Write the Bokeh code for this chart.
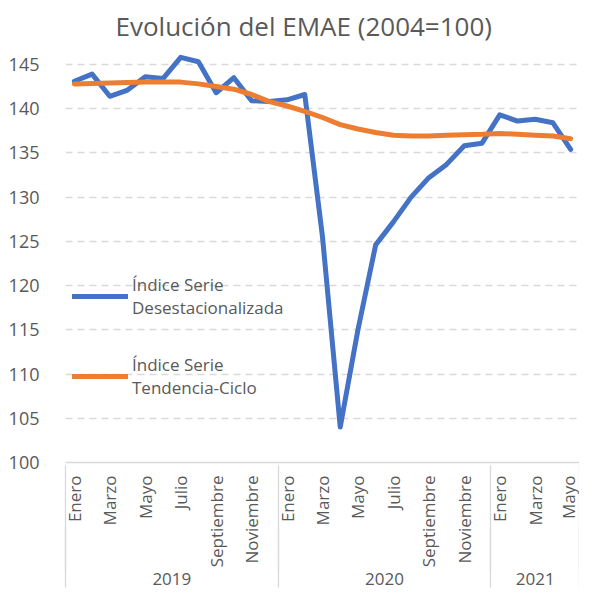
import math
from bokeh.plotting import figure
from bokeh.models import FixedTicker, LinearAxis, Legend, LegendItem, Range1d, ColumnDataSource
from bokeh.embed import file_html
from bokeh.resources import INLINE

# ---------------- data ----------------
MESES = ["Enero", "Febrero", "Marzo", "Abril", "Mayo", "Junio", "Julio",
         "Agosto", "Septiembre", "Octubre", "Noviembre", "Diciembre"]
ANIOS = ["2019", "2020", "2021"]
MESES_POR_ANIO = [12, 12, 5]

desestacionalizada = [143.1, 143.9, 141.4, 142.1, 143.6, 143.4, 145.8, 145.3, 141.8, 143.5, 140.9, 140.8,
                      141.0, 141.6, 125.5, 104.0, 115.0, 124.6, 127.2, 130.0, 132.2, 133.7, 135.8, 136.1,
                      139.3, 138.6, 138.8, 138.4, 135.4]
tendencia_ciclo = [142.8, 142.85, 142.9, 142.95, 143.0, 143.0, 143.0, 142.8, 142.5, 142.2, 141.6, 140.8,
                   140.3, 139.7, 139.0, 138.2, 137.7, 137.3, 137.0, 136.9, 136.9, 137.0, 137.05, 137.1,
                   137.2, 137.1, 137.0, 136.9, 136.6]
Y_TICKS = [100, 105, 110, 115, 120, 125, 130, 135, 140, 145]

TITULO = "Evolución del EMAE (2004=100)"
SERIE1 = "Índice Serie\nDesestacionalizada"
SERIE2 = "Índice Serie\nTendencia-Ciclo"

# ---------------- derived ----------------
periodos = []
for anio, n in zip(ANIOS, MESES_POR_ANIO):
    for m in MESES[:n]:
        periodos.append((anio, m))
x = list(range(len(periodos)))

src = ColumnDataSource(dict(x=x, des=desestacionalizada, ten=tendencia_ciclo))

FONT = "Open Sans"
GRAY = "#595959"
LIGHT = "#d9d9d9"
MONTH_STANDOFF = 13
MONTH_PANEL = MONTH_STANDOFF + 92

p = figure(width=579, height=598, output_backend="svg", toolbar_location=None,
           x_range=Range1d(-0.5, len(x) - 0.5), y_range=Range1d(100, 146.8),
           min_border_left=65, min_border_right=0, min_border_top=40, min_border_bottom=136)
p.outline_line_color = None
p.background_fill_color = "white"
p.border_fill_color = "white"

p.title.text = TITULO
p.title.text_font = FONT
p.title.text_font_size = "26px"
p.title.text_font_style = "normal"
p.title.text_color = GRAY
p.title.align = "left"
p.title.offset = 50

# y axis
p.yaxis.ticker = FixedTicker(ticks=Y_TICKS)
p.yaxis.axis_line_color = None
p.yaxis.major_tick_line_color = None
p.yaxis.minor_tick_line_color = None
p.yaxis.major_label_standoff = 20
p.yaxis.major_label_text_font = FONT
p.yaxis.major_label_text_font_size = "18px"
p.yaxis.major_label_text_color = GRAY

p.xgrid.grid_line_color = None
p.ygrid.ticker = FixedTicker(ticks=Y_TICKS[1:])
p.ygrid.grid_line_color = LIGHT
p.ygrid.grid_line_width = 1.3
p.ygrid.grid_line_dash = "7 5"

# boundaries between years
bounds = [-0.5]
acc = -0.5
for n in MESES_POR_ANIO:
    acc += n
    bounds.append(acc)

# month axis
month_ticks = [i for i in x if i % 2 == 0]
xa = p.xaxis[0]
xa.ticker = FixedTicker(ticks=month_ticks)
xa.major_label_overrides = {i: periodos[i][1] for i in month_ticks}
xa.major_label_orientation = math.pi / 2
xa.major_label_text_font = FONT
xa.major_label_text_font_size = "17px"
xa.major_label_text_color = GRAY
xa.major_label_standoff = MONTH_STANDOFF
xa.major_tick_line_color = None
xa.major_tick_out = 0
xa.major_tick_in = 0
xa.minor_tick_line_color = None
xa.axis_line_color = LIGHT
xa.axis_line_width = 1.3

# year axis (its minor ticks draw the separators up to the plot area)
centers = [(bounds[i] + bounds[i + 1]) / 2 for i in range(len(ANIOS))]
ya = LinearAxis(ticker=FixedTicker(ticks=centers, minor_ticks=bounds),
                major_label_overrides={c: a for c, a in zip(centers, ANIOS)})
ya.axis_line_color = None
ya.major_tick_line_color = None
ya.major_tick_out = 0
ya.major_tick_in = 0
ya.minor_tick_line_color = LIGHT
ya.minor_tick_line_width = 1.3
ya.minor_tick_out = 0
ya.minor_tick_in = MONTH_PANEL
ya.major_label_standoff = 2
ya.major_label_text_font = FONT
ya.major_label_text_font_size = "17px"
ya.major_label_text_color = GRAY
p.add_layout(ya, "below")

# bottom axis: only separators through the year row
ba = LinearAxis(ticker=FixedTicker(ticks=[], minor_ticks=bounds))
ba.axis_line_color = None
ba.major_tick_line_color = None
ba.major_tick_out = 0
ba.major_tick_in = 0
ba.major_label_standoff = 0
ba.major_label_text_font_size = "0px"
ba.minor_tick_line_color = LIGHT
ba.minor_tick_line_width = 1.3
ba.minor_tick_out = 0
ba.minor_tick_in = 60
p.add_layout(ba, "below")

# lines
r1 = p.line("x", "des", source=src, line_color="#4472C4", line_width=5,
            line_join="round", line_cap="round")
r2 = p.line("x", "ten", source=src, line_color="#ED7D31", line_width=5,
            line_join="round", line_cap="round")

legend = Legend(items=[LegendItem(label=SERIE1, renderers=[r1]),
                       LegendItem(label=SERIE2, renderers=[r2])],
                location=(7, 63), orientation="vertical")
legend.background_fill_alpha = 0
legend.border_line_color = None
legend.padding = 0
legend.margin = 0
legend.spacing = 34
legend.glyph_width = 56
legend.glyph_height = 20
legend.label_standoff = 4
legend.label_text_font = FONT
legend.label_text_font_size = "17px"
legend.label_text_color = GRAY
legend.label_text_line_height = 1.55
p.add_layout(legend, "center")

open("out.html", "w").write(file_html(p, INLINE))
